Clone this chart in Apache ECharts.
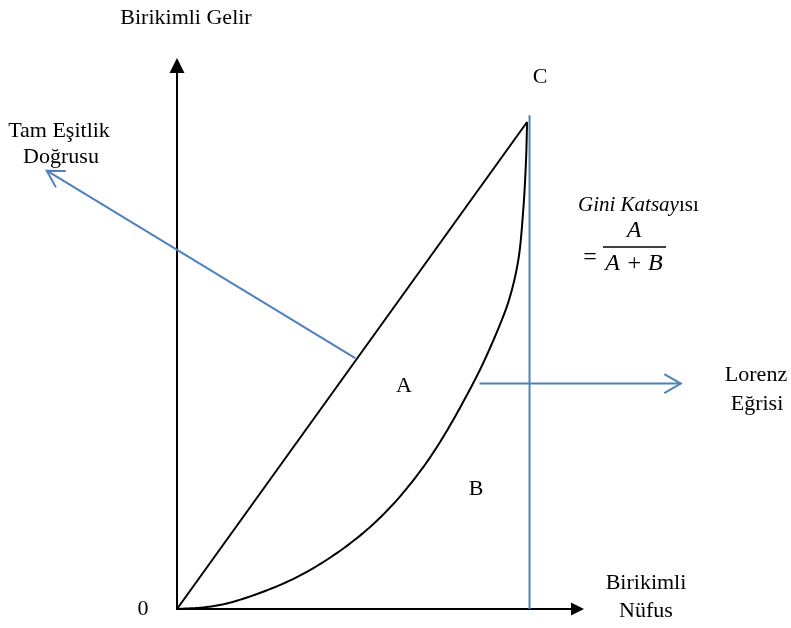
<!DOCTYPE html>
<html><head><meta charset="utf-8">
<script src="https://cdn.jsdelivr.net/npm/echarts@6/dist/echarts.min.js"></script>
<style>html,body{margin:0;padding:0;background:#fff}#c{width:791px;height:628px}</style>
</head><body><div id="c"></div>
<script>
// Lorenz curve: cumulative population share (x) vs cumulative income share (y)
const lorenzX = [0, 0.085, 0.171, 0.36, 0.551, 0.704, 0.847, 0.923, 0.951, 0.975, 0.989, 0.997, 1];
const lorenzY = [0, 0.004, 0.017, 0.072, 0.168, 0.292, 0.465, 0.585, 0.641, 0.717, 0.819, 0.922, 1];
// perfect equality line
const equalityX = [0, 1];
const equalityY = [0, 1];
// vertical boundary line through C
const boundaryX = [1.007, 1.007];
const boundaryY = [0, 1.014];
// pointer arrows: [fromX, fromY, toX, toY]
const pointerEquality = [0.509, 0.515, -0.372, 0.900];
const pointerLorenz = [0.864, 0.463, 1.439, 0.463];
// axis extents
const axisMaxX = 1.144;
const axisMaxY = 1.116;

const zip = (xs, ys) => xs.map((x, i) => [x, ys[i]]);
const BLUE = '#4f81bd';
const SERIF = '"Liberation Serif", "Times New Roman", serif';
const FS = 22;
const MFS = 24;

function txt(text, x, y, extra) {
  return {
    type: 'text', x: x, y: y,
    style: Object.assign({ text: text, fill: '#000', font: FS + 'px ' + SERIF, textAlign: 'center', textVerticalAlign: 'middle' }, extra || {})
  };
}

// centripetal Catmull-Rom spline through pixel points (drawing only)
function spline(pts) {
  const n = pts.length;
  const P = (i) => {
    if (i < 0) return [2 * pts[0][0] - pts[1][0], 2 * pts[0][1] - pts[1][1]];
    if (i >= n) return [2 * pts[n - 1][0] - pts[n - 2][0], 2 * pts[n - 1][1] - pts[n - 2][1]];
    return pts[i];
  };
  const d = (a, b) => Math.pow(Math.hypot(b[0] - a[0], b[1] - a[1]), 0.5) || 1e-6;
  const lerp = (a, b, ta, tb, t) => [((tb - t) * a[0] + (t - ta) * b[0]) / (tb - ta), ((tb - t) * a[1] + (t - ta) * b[1]) / (tb - ta)];
  const out = [pts[0]];
  for (let i = 0; i < n - 1; i++) {
    const p0 = P(i - 1), p1 = P(i), p2 = P(i + 1), p3 = P(i + 2);
    const t0 = 0, t1 = t0 + d(p0, p1), t2 = t1 + d(p1, p2), t3 = t2 + d(p2, p3);
    for (let s = 1; s <= 20; s++) {
      const t = t1 + (t2 - t1) * s / 20;
      const a1 = lerp(p0, p1, t0, t1, t), a2 = lerp(p1, p2, t1, t2, t), a3 = lerp(p2, p3, t2, t3, t);
      const b1 = lerp(a1, a2, t0, t2, t), b2 = lerp(a2, a3, t1, t3, t);
      out.push(lerp(b1, b2, t1, t2, t));
    }
  }
  return out;
}

const lorenzData = zip(lorenzX, lorenzY);

const chart = echarts.init(document.getElementById('c'), null, { renderer: 'canvas' });
chart.setOption({
  animation: false,
  backgroundColor: '#fff',
  grid: { left: 177, right: 213.5, top: 65.5, bottom: 19 },
  xAxis: {
    type: 'value', min: 0, max: axisMaxX,
    axisLine: { show: true, symbol: ['none', 'triangle'], symbolSize: [13, 13], lineStyle: { color: '#000', width: 2 } },
    axisTick: { show: false }, axisLabel: { show: false }, splitLine: { show: false }
  },
  yAxis: {
    type: 'value', min: 0, max: axisMaxY,
    axisLine: { show: true, symbol: ['none', 'triangle'], symbolSize: [15, 15], lineStyle: { color: '#000', width: 2 } },
    axisTick: { show: false }, axisLabel: { show: false }, splitLine: { show: false }
  },
  series: [
    {
      type: 'line', name: 'Tam Eşitlik Doğrusu', data: zip(equalityX, equalityY),
      showSymbol: false, lineStyle: { color: '#000', width: 2 }, clip: false, z: 3
    },
    {
      type: 'custom', name: 'Lorenz Eğrisi', clip: false, z: 3,
      data: lorenzData,
      encode: { x: 0, y: 1 },
      renderItem: function (params, api) {
        if (params.dataIndex !== 0) return null;
        const pts = lorenzData.map(d => api.coord(d));
        return { type: 'polyline', shape: { points: spline(pts) }, style: { stroke: '#000', lineWidth: 2, fill: null, lineJoin: 'round' } };
      }
    },
    {
      type: 'line', name: 'C', data: zip(boundaryX, boundaryY),
      showSymbol: false, lineStyle: { color: BLUE, width: 2 }, clip: false, z: 2
    },
    {
      type: 'custom', name: 'pointers', clip: false, z: 4,
      data: [pointerEquality, pointerLorenz],
      encode: { x: [0, 2], y: [1, 3] },
      renderItem: function (params, api) {
        const p1 = api.coord([api.value(0), api.value(1)]);
        const p2 = api.coord([api.value(2), api.value(3)]);
        const dx = p1[0] - p2[0], dy = p1[1] - p2[1];
        const len = Math.sqrt(dx * dx + dy * dy);
        const ux = dx / len, uy = dy / len;
        const L = 19, a = Math.PI / 6;
        const arm = (s) => [p2[0] + L * (ux * Math.cos(s * a) - uy * Math.sin(s * a)),
                             p2[1] + L * (ux * Math.sin(s * a) + uy * Math.cos(s * a))];
        const st = { stroke: BLUE, lineWidth: 2, fill: null };
        return {
          type: 'group',
          children: [
            { type: 'polyline', shape: { points: [p1, p2] }, style: st },
            { type: 'polyline', shape: { points: [arm(1), p2, arm(-1)] }, style: st }
          ]
        };
      }
    }
  ],
  graphic: [
    txt('Birikimli Gelir', 186, 18),
    txt('C', 540, 77),
    txt('Tam Eşitlik', 59, 131),
    txt('Doğrusu', 61, 157),
    txt('A', 404, 386),
    txt('B', 476, 489),
    txt('Lorenz', 756, 375),
    txt('Eğrisi', 757, 404),
    txt('0', 143, 609),
    txt('Birikimli', 646, 583),
    txt('Nüfus', 646, 611),
    txt('{i|Gini Katsay}{n|ısı}', 578, 205, {
      textAlign: 'left',
      rich: {
        i: { font: 'italic 21px ' + SERIF, fill: '#000' },
        n: { font: '21px ' + SERIF, fill: '#000' }
      }
    }),
    txt('=', 590, 258, { font: MFS + 'px ' + SERIF }),
    txt('A', 634, 231, { font: 'italic ' + MFS + 'px ' + SERIF }),
    { type: 'line', shape: { x1: 603, y1: 247, x2: 666, y2: 247 }, style: { stroke: '#000', lineWidth: 1.5 } },
    txt('A + B', 634, 264, { font: 'italic ' + MFS + 'px ' + SERIF })
  ]
});
</script></body></html>
